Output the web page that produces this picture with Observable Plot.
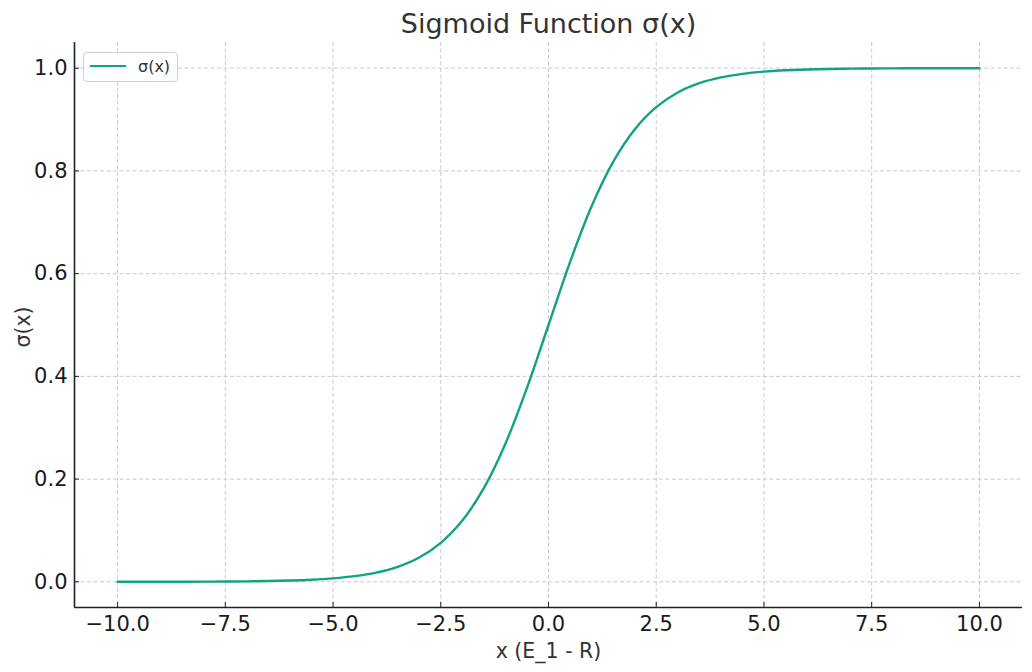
<!DOCTYPE html>
<html><head><meta charset="utf-8">
<script src="https://cdn.jsdelivr.net/npm/d3@7"></script>
<script src="https://cdn.jsdelivr.net/npm/@observablehq/plot@0.6"></script>
<style>
body{margin:0;background:#fff;font-family:"DejaVu Sans",sans-serif;}
#wrap{position:relative;width:1032px;height:672px;overflow:hidden;}
#legend{position:absolute;left:83px;top:52px;width:95px;height:30px;border:1px solid #d0d0d0;border-radius:4px;background:rgba(255,255,255,0.85);box-sizing:border-box;}
#legend .sw{position:absolute;left:6px;top:12px;width:36px;height:0;border-top:2.4px solid #10a37f;}
#legend .lb{position:absolute;left:54px;top:4px;font-size:16px;line-height:20px;color:#333;}
</style></head>
<body><div id="wrap"><div id="legend"><div class="sw"></div><div class="lb"></div></div></div>
<script>
const titleText = "Sigmoid Function σ(x)";
const xLabel = "x (E_1 - R)";
const yLabel = "σ(x)";
const seriesName = "σ(x)";
const xValues = [-10,-9.5,-9,-8.5,-8,-7.5,-7,-6.5,-6,-5.5,-5,-4.5,-4,-3.5,-3,-2.5,-2,-1.5,-1,-0.5,0,0.5,1,1.5,2,2.5,3,3.5,4,4.5,5,5.5,6,6.5,7,7.5,8,8.5,9,9.5,10];
const yValues = [0.0000,0.0001,0.0001,0.0002,0.0003,0.0006,0.0009,0.0015,0.0025,0.0041,0.0067,0.0110,0.0180,0.0293,0.0474,0.0759,0.1192,0.1824,0.2689,0.3775,0.5000,0.6225,0.7311,0.8176,0.8808,0.9241,0.9526,0.9707,0.9820,0.9890,0.9933,0.9959,0.9975,0.9985,0.9991,0.9994,0.9997,0.9998,0.9999,0.9999,1.0000];
const xTicks = [-10,-7.5,-5,-2.5,0,2.5,5,7.5,10];
const yTicks = [0,0.2,0.4,0.6,0.8,1.0];
const xDomain = [-11, 11];
const yDomain = [-0.05, 1.05];

const data = xValues.map((x, i) => ({x, y: yValues[i]}));
document.querySelector("#legend .lb").textContent = seriesName;

const gridStyle = {stroke: "#c4c4c4", strokeOpacity: 1, strokeWidth: 0.9, strokeDasharray: "4,2.5"};
const plot = Plot.plot({
  width: 1032, height: 672,
  marginLeft: 74, marginRight: 10, marginTop: 42, marginBottom: 65,
  style: {fontFamily: "DejaVu Sans", fontSize: "21px", color: "#1a1a1a", background: "white", overflow: "visible"},
  x: {domain: xDomain},
  y: {domain: yDomain},
  marks: [
    Plot.gridX(xTicks, gridStyle),
    Plot.gridY(yTicks, gridStyle),
    Plot.axisX(xTicks, {tickSize: -5, tickPadding: 14, tickFormat: d3.format(".1f"), label: null, stroke: "#222"}),
    Plot.axisY(yTicks, {tickSize: -5, tickPadding: 12, tickFormat: d3.format(".1f"), label: null, stroke: "#222"}),
    Plot.ruleX([xDomain[0]], {stroke: "#222", strokeWidth: 1.6}),
    Plot.ruleY([yDomain[0]], {stroke: "#222", strokeWidth: 1.6}),
    Plot.line(data, {x: "x", y: "y", stroke: "#10a37f", strokeWidth: 2.4, curve: "catmull-rom"}),
    Plot.text([titleText], {frameAnchor: "top", lineAnchor: "middle", dy: -18, fontSize: 27, fill: "#333"}),
    Plot.text([xLabel], {frameAnchor: "bottom", lineAnchor: "middle", dy: 44, fontSize: 20.5, fill: "#333"}),
    Plot.text([yLabel], {frameAnchor: "left", lineAnchor: "middle", textAnchor: "middle", dx: -51, dy: 2, rotate: -90, fontSize: 20.5, fill: "#333"})
  ]
});
document.getElementById("wrap").prepend(plot);
</script></body></html>
